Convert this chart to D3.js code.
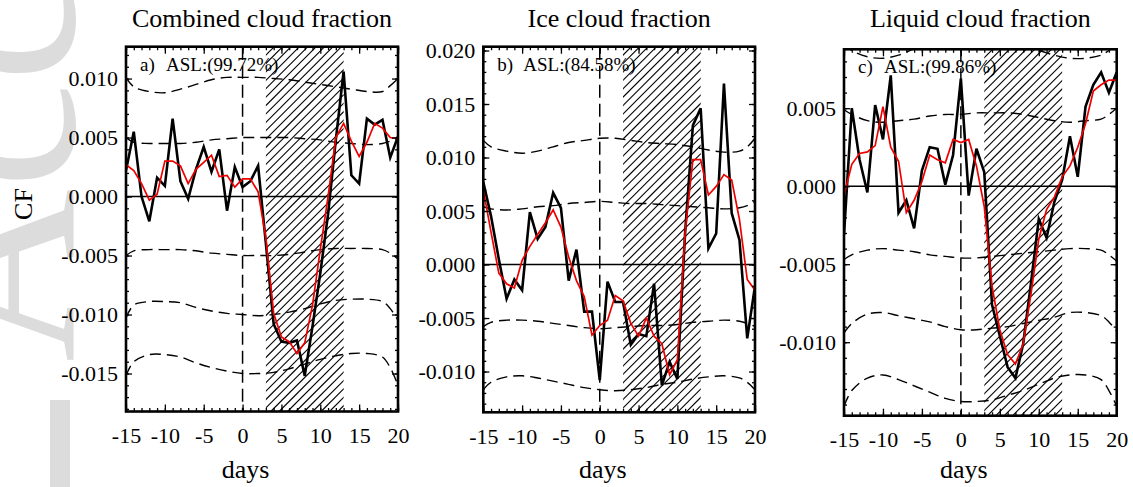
<!DOCTYPE html>
<html><head><meta charset="utf-8">
<script src="https://cdn.jsdelivr.net/npm/d3@7"></script>
<style>body{margin:0;background:#fff}svg{display:block}</style>
</head><body><svg id="chart" width="1133" height="487"></svg>
<script>
// ---------------- data ----------------
const days = [-15,-14,-13,-12,-11,-10,-9,-8,-7,-6,-5,-4,-3,-2,-1,0,1,2,3,4,5,6,7,8,9,10,11,12,13,14,15,16,17,18,19,20];
const bandDays = [-15,-14,-12,-10,-8,-6,-4,-2,0,2,4,6,8,10,12,14,16,18,19,20];
const xTickValues = [-15,-10,-5,0,5,10,15,20];
const hatchRange = [3, 13];

const titles = ["Combined cloud fraction", "Ice cloud fraction", "Liquid cloud fraction"];
const panelTags = ["a)", "b)", "c)"];
const aslLabels = ["ASL:(99.72%)", "ASL:(84.58%)", "ASL:(99.86%)"];
const xAxisTitle = "days";
const yAxisTitle = "CF";

// Combined cloud fraction
const combinedRaw = [0.0022,0.0055,0.0000,-0.0021,0.0016,0.0009,0.0066,0.0013,-0.0002,0.0023,0.0042,0.0021,0.0040,-0.0012,0.0025,0.0008,0.0013,0.0026,-0.0040,-0.0108,-0.0123,-0.0124,-0.0122,-0.0152,-0.0110,-0.0065,-0.0015,0.0048,0.0106,0.0018,0.0011,0.0066,0.0061,0.0065,0.0033,0.0051];
const combinedSmooth = [0.0027,0.0022,0.0011,-0.0003,0.0002,0.0030,0.0030,0.0026,0.0011,0.0023,0.0029,0.0035,0.0017,0.0018,0.0008,0.0015,0.0015,0.0004,-0.0035,-0.0099,-0.0119,-0.0123,-0.0133,-0.0124,-0.0092,-0.0045,0.0000,0.0050,0.0062,0.0047,0.0034,0.0046,0.0062,0.0058,0.0050,0.0049];
const combinedUp2 = [0.0101,0.0093,0.0089,0.0088,0.0091,0.0095,0.0099,0.0101,0.0101,0.0101,0.0100,0.0099,0.0097,0.0095,0.0093,0.0091,0.0089,0.0089,0.0094,0.0100];
const combinedUp1 = [0.0050,0.0046,0.0045,0.0045,0.0045,0.0046,0.0048,0.0049,0.0050,0.0050,0.0050,0.0050,0.0049,0.0048,0.0046,0.0045,0.0044,0.0045,0.0047,0.0049];
const combinedLow1 = [-0.0050,-0.0046,-0.0045,-0.0045,-0.0045,-0.0046,-0.0048,-0.0049,-0.0050,-0.0050,-0.0050,-0.0049,-0.0047,-0.0045,-0.0044,-0.0044,-0.0044,-0.0045,-0.0048,-0.0053];
const combinedLow2 = [-0.0103,-0.0092,-0.0089,-0.0089,-0.0090,-0.0094,-0.0097,-0.0099,-0.0100,-0.0101,-0.0100,-0.0098,-0.0095,-0.0091,-0.0088,-0.0087,-0.0087,-0.0089,-0.0095,-0.0105];
const combinedLow3 = [-0.0152,-0.0140,-0.0134,-0.0134,-0.0136,-0.0141,-0.0145,-0.0148,-0.0150,-0.0150,-0.0149,-0.0146,-0.0142,-0.0138,-0.0135,-0.0133,-0.0133,-0.0136,-0.0145,-0.0160];
const combinedYTicks = [-0.015,-0.010,-0.005,0.000,0.005,0.010];

// Ice cloud fraction
const iceRaw = [0.0077,0.0045,0.0005,-0.0032,-0.0014,-0.0024,0.0049,0.0024,0.0035,0.0067,0.0053,-0.0015,0.0014,-0.0044,-0.0044,-0.0108,-0.0016,-0.0035,-0.0035,-0.0075,-0.0065,-0.0067,-0.0018,-0.0113,-0.0091,-0.0107,0.0030,0.0130,0.0146,0.0015,0.0029,0.0169,0.0048,0.0023,-0.0069,-0.0020];
const iceSmooth = [0.0070,0.0030,-0.0008,-0.0018,-0.0022,0.0004,0.0017,0.0028,0.0039,0.0051,0.0035,0.0007,-0.0015,-0.0030,-0.0066,-0.0057,-0.0052,-0.0029,-0.0034,-0.0055,-0.0067,-0.0050,-0.0067,-0.0074,-0.0103,-0.0089,0.0030,0.0098,0.0098,0.0065,0.0073,0.0084,0.0079,0.0042,-0.0014,-0.0024];
const iceUp2 = [0.0116,0.0110,0.0106,0.0104,0.0106,0.0110,0.0114,0.0116,0.0118,0.0118,0.0116,0.0114,0.0113,0.0112,0.0110,0.0107,0.0105,0.0106,0.0110,0.0118];
const iceUp1 = [0.0054,0.0052,0.0051,0.0052,0.0054,0.0055,0.0057,0.0058,0.0059,0.0058,0.0057,0.0057,0.0056,0.0055,0.0054,0.0053,0.0052,0.0053,0.0055,0.0059];
const iceLow1 = [-0.0058,-0.0054,-0.0052,-0.0052,-0.0053,-0.0055,-0.0057,-0.0059,-0.0060,-0.0059,-0.0058,-0.0057,-0.0057,-0.0056,-0.0054,-0.0053,-0.0052,-0.0053,-0.0055,-0.0058];
const iceLow2 = [-0.0117,-0.0110,-0.0105,-0.0104,-0.0106,-0.0109,-0.0112,-0.0115,-0.0117,-0.0118,-0.0117,-0.0115,-0.0112,-0.0110,-0.0107,-0.0105,-0.0104,-0.0106,-0.0110,-0.0117];
const iceYTicks = [-0.010,-0.005,0.000,0.005,0.010,0.015,0.020];

// Liquid cloud fraction
const liquidRaw = [-0.0031,0.0050,0.0017,-0.0004,0.0052,0.0030,0.0071,-0.0017,-0.0009,-0.0027,0.0010,0.0025,0.0024,0.0001,0.0020,0.0069,-0.0006,0.0024,0.0009,-0.0076,-0.0096,-0.0116,-0.0123,-0.0101,-0.0062,-0.0021,-0.0033,-0.0010,0.0004,0.0032,0.0006,0.0051,0.0065,0.0073,0.0060,0.0073];
const liquidSmooth = [-0.0006,0.0014,0.0021,0.0022,0.0026,0.0051,0.0025,0.0016,-0.0017,-0.0009,0.0003,0.0020,0.0017,0.0015,0.0030,0.0028,0.0030,0.0013,-0.0013,-0.0064,-0.0092,-0.0108,-0.0114,-0.0101,-0.0069,-0.0034,-0.0015,-0.0007,0.0006,0.0013,0.0025,0.0040,0.0061,0.0065,0.0068,0.0068];
const liquidUp3 = [0.0092,0.0087,0.0083,0.0082,0.0084,0.0088,0.0091,0.0093,0.0094,0.0094,0.0093,0.0091,0.0089,0.0087,0.0084,0.0082,0.0082,0.0084,0.0087,0.0090];
const liquidUp1 = [0.0049,0.0046,0.0042,0.0041,0.0042,0.0043,0.0045,0.0046,0.0046,0.0047,0.0047,0.0047,0.0046,0.0044,0.0042,0.0041,0.0042,0.0043,0.0046,0.0050];
const liquidLow1 = [-0.0047,-0.0044,-0.0041,-0.0040,-0.0041,-0.0042,-0.0044,-0.0045,-0.0046,-0.0046,-0.0045,-0.0044,-0.0043,-0.0042,-0.0041,-0.0040,-0.0040,-0.0041,-0.0044,-0.0048];
const liquidLow2 = [-0.0094,-0.0088,-0.0082,-0.0081,-0.0083,-0.0085,-0.0087,-0.0090,-0.0092,-0.0092,-0.0091,-0.0090,-0.0088,-0.0086,-0.0084,-0.0081,-0.0081,-0.0083,-0.0087,-0.0093];
const liquidLow3 = [-0.0141,-0.0131,-0.0123,-0.0121,-0.0124,-0.0128,-0.0132,-0.0136,-0.0138,-0.0138,-0.0137,-0.0134,-0.0131,-0.0127,-0.0123,-0.0121,-0.0121,-0.0124,-0.0131,-0.0141];
const liquidYTicks = [-0.010,-0.005,0.000,0.005];

// ---------------- layout ----------------
const panels = [
  {raw: combinedRaw, smooth: combinedSmooth, bands: [combinedUp2, combinedUp1, combinedLow1, combinedLow2, combinedLow3],
   yTicks: combinedYTicks, yDomain: [-0.01822, 0.0127], box: {l: 126, r: 398, t: 46.7, b: 411.5}},
  {raw: iceRaw, smooth: iceSmooth, bands: [iceUp2, iceUp1, iceLow1, iceLow2],
   yTicks: iceYTicks, yDomain: [-0.01381, 0.020355], box: {l: 483.3, r: 755, t: 46.7, b: 412.3}},
  {raw: liquidRaw, smooth: liquidSmooth, bands: [liquidUp3, liquidUp1, liquidLow1, liquidLow2, liquidLow3],
   yTicks: liquidYTicks, yDomain: [-0.014712, 0.008776], box: {l: 844, r: 1116.7, t: 49.3, b: 415.7}}
];

const FONT = "'Liberation Serif','Times New Roman',serif";
const svg = d3.select("#chart");
const defs = svg.append("defs");
const fmtY = v => (Math.abs(v) < 1e-12 ? "0.000" : (v < 0 ? "-" : "") + Math.abs(v).toFixed(3));

// watermark (light grey, rotated, clipped by the page edge)
const wm = svg.append("g").attr("fill", "#dcdcdc");
wm.append("text")
  .attr("transform", "translate(74,362) rotate(-90)")
  .attr("font-family", FONT).attr("font-size", 240)
  .text("Acc");
wm.append("rect").attr("x", 50).attr("y", 400).attr("width", 20).attr("height", 87);

panels.forEach((p, i) => {
  const {l, r, t, b} = p.box;
  const x = d3.scaleLinear().domain([days[0], days[days.length - 1]]).range([l, r]);
  const y = d3.scaleLinear().domain(p.yDomain).range([b, t]);

  const clipId = "clip" + i;
  defs.append("clipPath").attr("id", clipId)
    .append("rect").attr("x", l).attr("y", t).attr("width", r - l).attr("height", b - t);
  const hatchId = "hclip" + i;
  defs.append("clipPath").attr("id", hatchId)
    .append("rect").attr("x", x(hatchRange[0])).attr("y", t)
    .attr("width", x(hatchRange[1]) - x(hatchRange[0])).attr("height", b - t);

  const g = svg.append("g");

  // hatched window
  const H = b - t;
  const hatchG = g.append("g").attr("clip-path", `url(#${hatchId})`);
  const step = 8.4;
  const hx0 = x(hatchRange[0]), hx1 = x(hatchRange[1]);
  const offsets = d3.range(hx0 - H, hx1 + step, step);
  hatchG.selectAll("line").data(offsets).join("line")
    .attr("x1", d => d).attr("y1", b).attr("x2", d => d + H).attr("y2", t)
    .attr("stroke", "#000").attr("stroke-width", 1.1);

  const plot = g.append("g").attr("clip-path", `url(#${clipId})`);

  // significance curves
  const bandLine = d3.line().x((d, k) => x(bandDays[k])).y(d => y(d)).curve(d3.curveCatmullRom);
  plot.selectAll("path.band").data(p.bands).join("path").attr("class", "band")
    .attr("d", bandLine).attr("fill", "none").attr("stroke", "#000")
    .attr("stroke-width", 1.4).attr("stroke-dasharray", "11,6");

  // zero line
  plot.append("line").attr("x1", l).attr("x2", r).attr("y1", y(0)).attr("y2", y(0))
    .attr("stroke", "#000").attr("stroke-width", 1.4);
  // day 0 line
  plot.append("line").attr("x1", x(0)).attr("x2", x(0)).attr("y1", t).attr("y2", b)
    .attr("stroke", "#000").attr("stroke-width", 1.5).attr("stroke-dasharray", "13,6");

  const line = d3.line().x((d, k) => x(days[k])).y(d => y(d));
  plot.append("path").datum(p.raw).attr("d", line).attr("fill", "none")
    .attr("stroke", "#000").attr("stroke-width", 2.6).attr("stroke-linejoin", "miter");
  plot.append("path").datum(p.smooth).attr("d", line).attr("fill", "none")
    .attr("stroke", "#ee0000").attr("stroke-width", 1.7);

  // axes (inward ticks)
  const minorX = days;
  const minorY = d3.range(Math.ceil(p.yDomain[0] * 1000), Math.floor(p.yDomain[1] * 1000) + 1).map(v => v / 1000);
  const styleAxis = sel => { sel.select(".domain").remove(); sel.selectAll("line").attr("stroke", "#000").attr("stroke-width", 1.3); };

  g.append("g").attr("transform", `translate(0,${b})`)
    .call(d3.axisBottom(x).tickValues(minorX).tickSize(-3.5).tickFormat("")).call(styleAxis);
  g.append("g").attr("transform", `translate(0,${t})`)
    .call(d3.axisTop(x).tickValues(minorX).tickSize(-3.5).tickFormat("")).call(styleAxis);
  g.append("g").attr("transform", `translate(0,${t})`)
    .call(d3.axisTop(x).tickValues(xTickValues).tickSize(-7).tickFormat("")).call(styleAxis);
  const xb = g.append("g").attr("transform", `translate(0,${b})`)
    .call(d3.axisBottom(x).tickValues(xTickValues).tickSize(-7).tickFormat(d3.format("d"))).call(styleAxis);
  xb.selectAll("text").attr("y", 31.5).attr("dy", null)
    .attr("font-family", FONT).attr("font-size", 22).attr("fill", "#000")
    .text(d => (d < 0 ? "-" : "") + Math.abs(d));

  g.append("g").attr("transform", `translate(${l},0)`)
    .call(d3.axisLeft(y).tickValues(minorY).tickSize(-3).tickFormat("")).call(styleAxis);
  g.append("g").attr("transform", `translate(${r},0)`)
    .call(d3.axisRight(y).tickValues(minorY).tickSize(-3).tickFormat("")).call(styleAxis);
  g.append("g").attr("transform", `translate(${r},0)`)
    .call(d3.axisRight(y).tickValues(p.yTicks).tickSize(-6).tickFormat("")).call(styleAxis);
  const yl = g.append("g").attr("transform", `translate(${l},0)`)
    .call(d3.axisLeft(y).tickValues(p.yTicks).tickSize(-6).tickPadding(8).tickFormat(fmtY)).call(styleAxis);
  yl.selectAll("text").attr("font-family", FONT).attr("font-size", 22).attr("fill", "#000");

  // frame
  g.append("rect").attr("x", l).attr("y", t).attr("width", r - l).attr("height", b - t)
    .attr("fill", "none").attr("stroke", "#000").attr("stroke-width", 2.6);

  // texts
  svg.append("text").attr("x", (l + r) / 2).attr("y", 27).attr("text-anchor", "middle")
    .attr("font-family", FONT).attr("font-size", 26).text(titles[i]);
  svg.append("text").attr("x", l + 14).attr("y", t + 24)
    .attr("font-family", FONT).attr("font-size", 19).text(panelTags[i]);
  svg.append("text").attr("x", l + 40).attr("y", t + 24)
    .attr("font-family", FONT).attr("font-size", 19).text(aslLabels[i]);
  svg.append("text").attr("x", x(0) + 3).attr("y", 478).attr("text-anchor", "middle")
    .attr("font-family", FONT).attr("font-size", 26).text(xAxisTitle);
});

svg.append("text").attr("transform", "translate(32,204) rotate(-90)").attr("text-anchor", "middle")
  .attr("font-family", FONT).attr("font-size", 26).text(yAxisTitle);
</script></body></html>
